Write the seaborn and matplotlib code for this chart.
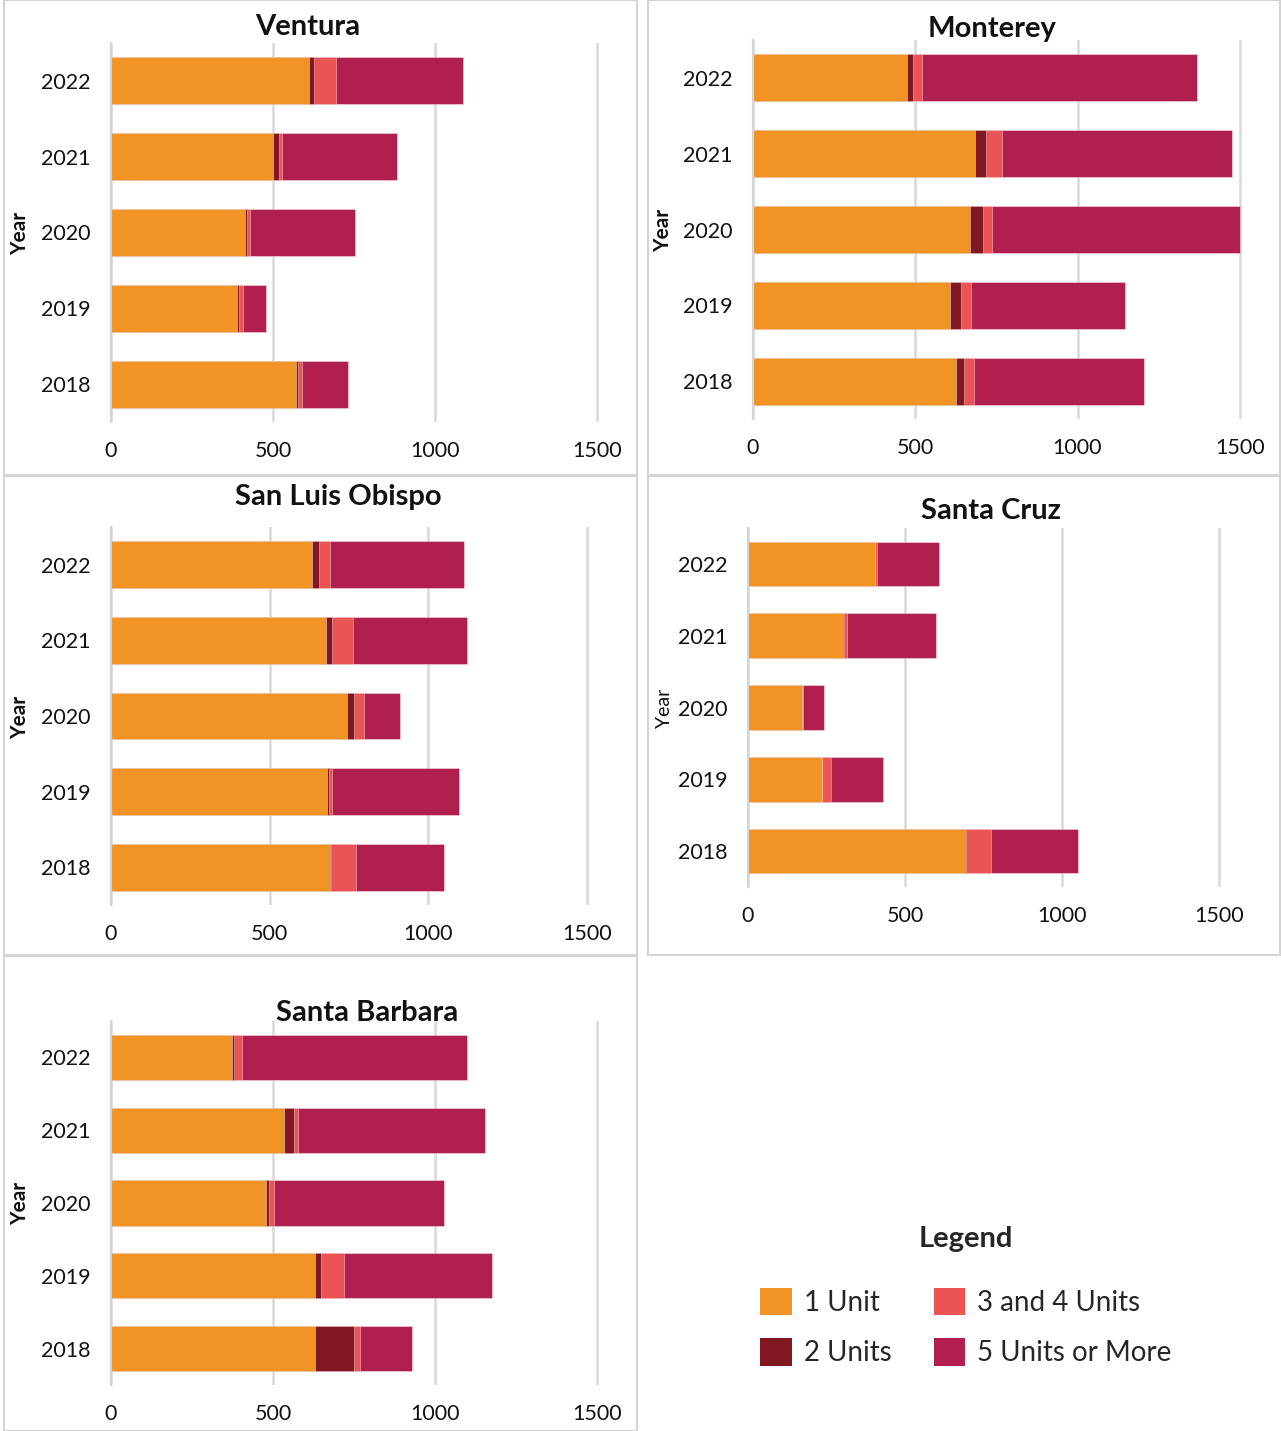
import matplotlib
matplotlib.use("Agg")
import matplotlib.pyplot as plt
from matplotlib.patches import Rectangle, Patch
from matplotlib.ticker import FixedLocator
import pandas as pd
import seaborn as sns

sns.set_theme(style="white")
plt.rcParams["font.family"] = ["Lato", "DejaVu Sans"]

years = ["2022", "2021", "2020", "2019", "2018"]
series_names = ["1 Unit", "2 Units", "3 and 4 Units", "5 Units or More"]
series_colors = ["#F29326", "#821724", "#EB5355", "#B01F4E"]
x_ticks = [0, 500, 1000, 1500]

ventura_one = [611, 501, 414, 390, 570]
ventura_two = [16, 19, 7, 4, 7]
ventura_three_four = [66, 9, 9, 12, 13]
ventura_five_plus = [393, 353, 322, 73, 142]

monterey_one = [474, 685, 668, 608, 625]
monterey_two = [18, 33, 40, 33, 25]
monterey_three_four = [29, 50, 30, 32, 32]
monterey_five_plus = [847, 709, 763, 473, 522]

slo_one = [634, 677, 745, 679, 690]
slo_two = [21, 18, 21, 8, 3]
slo_three_four = [36, 67, 31, 8, 78]
slo_five_plus = [420, 359, 113, 400, 278]

santa_cruz_one = [403, 302, 173, 235, 692]
santa_cruz_two = [0, 5, 0, 0, 3]
santa_cruz_three_four = [7, 7, 2, 29, 77]
santa_cruz_five_plus = [198, 283, 68, 164, 278]

santa_barbara_one = [374, 533, 478, 631, 631]
santa_barbara_two = [7, 31, 11, 18, 119]
santa_barbara_three_four = [24, 13, 15, 71, 17]
santa_barbara_five_plus = [693, 576, 523, 456, 162]

W, H = 1281, 1431
fig = plt.figure(figsize=(W / 100, H / 100), dpi=100)
fig.patch.set_facecolor("white")

# panel frames (pixel boxes: left, top, right, bottom)
frames = [(4, 0, 637, 475), (648, 0, 1280, 475), (4, 476, 637, 955),
          (648, 476, 1280, 955), (4, 956, 637, 1431)]
for l, t, r, b in frames:
    fig.add_artist(Rectangle((l / W, 1 - b / H), (r - l) / W, (b - t) / H,
                             transform=fig.transFigure, fill=False,
                             edgecolor="#d4d4d4", lw=1.6, zorder=0))

XMAX = 1580
panels = [
    # title, series, axes left px, top px, bottom px, px per unit, title xy, year label xy, bold
    ("Ventura", [ventura_one, ventura_two, ventura_three_four, ventura_five_plus],
     111, 43, 422, 0.324, (308, 27), (20, 233), True),
    ("Monterey", [monterey_one, monterey_two, monterey_three_four, monterey_five_plus],
     753, 40, 419, 0.3245, (992, 29), (663, 230), True),
    ("San Luis Obispo", [slo_one, slo_two, slo_three_four, slo_five_plus],
     111, 527, 905, 0.3174, (338, 497), (20, 717), True),
    ("Santa Cruz", [santa_cruz_one, santa_cruz_two, santa_cruz_three_four, santa_cruz_five_plus],
     748, 528, 887, 0.3143, (991, 511), (664, 708), False),
    ("Santa Barbara", [santa_barbara_one, santa_barbara_two, santa_barbara_three_four,
                       santa_barbara_five_plus],
     111, 1021, 1385, 0.324, (367, 1013), (20, 1203), True),
]

for title, series, left, top, bottom, ppu, tpos, ypos, bold in panels:
    width = XMAX * ppu
    ax = fig.add_axes([left / W, 1 - bottom / H, width / W, (bottom - top) / H])
    df = pd.DataFrame({"year": years})
    cum = [0] * len(years)
    cum_cols = []
    for name, vals in zip(series_names, series):
        cum = [c + v for c, v in zip(cum, vals)]
        df[name] = cum
        cum_cols.append(name)
    # layered cumulative bars, widest (total) first
    for name, color in reversed(list(zip(cum_cols, series_colors))):
        sns.barplot(data=df, x=name, y="year", order=years, orient="h",
                    color=color, width=0.62, saturation=1, ax=ax,
                    edgecolor=(1, 1, 1, 0.45), linewidth=0.6)
    ax.set_xlim(0, XMAX)
    ax.set_ylim(4.5, -0.5)
    ax.set_xticks(x_ticks)
    ax.set_xticklabels([str(t) for t in x_ticks])
    ax.xaxis.grid(True, color="#d9d9d9", lw=1.8)
    ax.yaxis.grid(False)
    ax.set_axisbelow(True)
    for s in ["top", "right", "bottom"]:
        ax.spines[s].set_visible(False)
    ax.spines["left"].set_color("#d4d4d4")
    ax.spines["left"].set_linewidth(1.6)
    ax.tick_params(axis="x", length=0, pad=14, labelsize=15.5, labelcolor="#111111")
    ax.tick_params(axis="y", which="major", length=0, pad=14.5, labelsize=15.5,
                   labelcolor="#111111")
    ax.yaxis.set_minor_locator(FixedLocator([-0.5, 0.5, 1.5, 2.5, 3.5, 4.5]))
    ax.tick_params(axis="y", which="minor", length=5, width=1.6, color="#d4d4d4")
    ax.set_xlabel("")
    ax.set_ylabel("")
    fig.text(tpos[0] / W, 1 - tpos[1] / H, title, ha="center", va="center",
             fontsize=21, fontweight="bold", color="#111111")
    fig.text(ypos[0] / W, 1 - ypos[1] / H, "Year", ha="center", va="center",
             rotation=90, fontsize=15 if bold else 14,
             fontweight="bold" if bold else "normal", color="#111111")

handles = [Patch(facecolor=c, edgecolor="none") for c in series_colors]
leg = fig.legend(handles, series_names, ncol=2, loc="center",
                 bbox_to_anchor=(966 / W, 1 - 1296 / H), frameon=False,
                 title="Legend", fontsize=20, handlelength=1.15, handleheight=1.15,
                 handletextpad=0.43, columnspacing=1.5, labelspacing=0.8)
leg.get_title().set_fontweight("bold")
leg.get_title().set_fontsize(21)
leg._legend_box.sep = 26

fig.savefig("out.png", dpi=100, facecolor="white")
